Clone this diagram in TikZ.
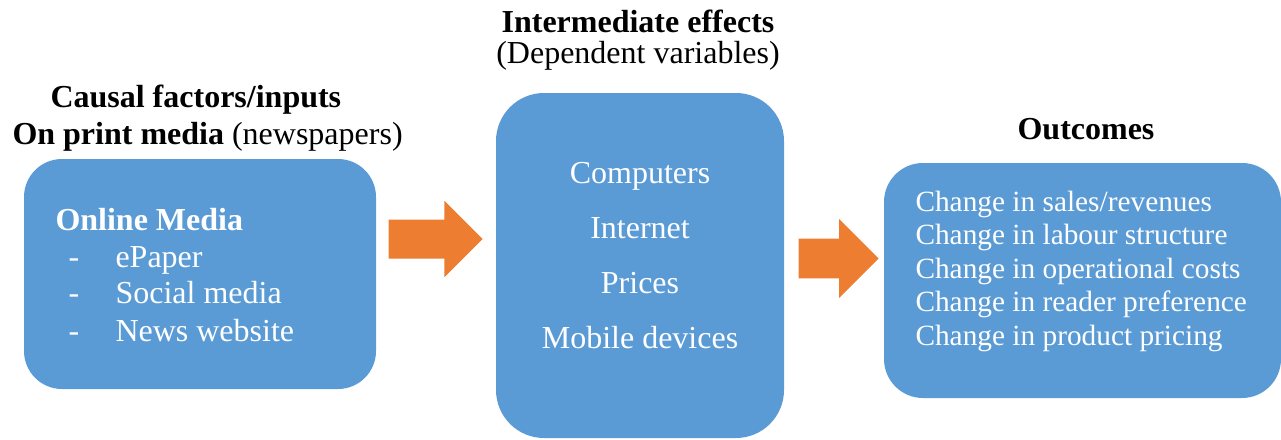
\documentclass[tikz,border=0pt]{standalone}
\usepackage{fontspec}
\setmainfont{Liberation Serif}
\usetikzlibrary{shapes.arrows}

\definecolor{boxblue}{RGB}{91,155,213}
\definecolor{arroworange}{RGB}{237,125,49}

\tikzset{every picture/.style={line width=0.75pt}}
\tikzset{
  roundbox/.style={fill=boxblue, draw=none, inner sep=0pt},
  blockarrow/.style={single arrow, fill=arroworange, draw=none, inner xsep=0pt, single arrow head extend=#1},
  headtext/.style={inner sep=0pt, font=\fontsize{24}{28}\selectfont},
  headbold/.style={inner sep=0pt, font=\fontsize{24}{28}\selectfont\bfseries},
  boxtext/.style={text=white, inner sep=0pt, font=\fontsize{24}{28}\selectfont},
  smalltext/.style={text=white, inner sep=0pt, font=\fontsize{22}{26}\selectfont},
}

\begin{document}
\begin{tikzpicture}[x=0.75pt,y=0.75pt,yscale=-1]
\useasboundingbox (0,0) rectangle (1281,439);

%Shape: Rounded Rect [id:inputs]
\node [roundbox, minimum width=264pt, minimum height=172.5pt, rounded corners=28.5pt] (inputs) at (200,274) {};
%Shape: Rounded Rect [id:effects]
\node [roundbox, minimum width=216pt, minimum height=258.75pt, rounded corners=36pt] (effects) at (640,265.5) {};
%Shape: Rounded Rect [id:outcomes]
\node [roundbox, minimum width=297.75pt, minimum height=176.25pt, rounded corners=29.25pt] (outcomes) at (1082.5,280.5) {};

%Shape: Right Arrow [id:arrowA]
\node [blockarrow=13.9pt, inner ysep=14.25pt, minimum height=70.5pt, anchor=tail] (arrowA) at (388,239) {};
%Shape: Right Arrow [id:arrowB]
\node [blockarrow=14.6pt, inner ysep=14.6pt, minimum height=60pt, anchor=tail] (arrowB) at (798,258.5) {};

% Text Node
\node [headbold, anchor=base west] (inTitle) at (50,107) {Causal factors/inputs};
% Text Node
\node [headtext, anchor=base west] (inSub) at (12,144) {\textbf{On print media} (newspapers)};
% Text Node
\node [headbold, anchor=base] (effTitle) at (638,32) {Intermediate effects};
% Text Node
\node [headtext, anchor=base] (effSub) at (638,63) {(Dependent variables)};
% Text Node
\node [headbold, anchor=base] (outTitle) at (1086,139) {Outcomes};

% Text Node
\node [boxtext, anchor=base west, font=\fontsize{24}{28}\selectfont\bfseries] (online) at (55,230) {Online Media};
% Text Node
\node [boxtext, anchor=base west] (dashA) at (68,267) {-};
% Text Node
\node [boxtext, anchor=base west] (epaper) at (115,267) {ePaper};
% Text Node
\node [boxtext, anchor=base west] (dashB) at (68,303) {-};
% Text Node
\node [boxtext, anchor=base west] (social) at (115,303) {Social media};
% Text Node
\node [boxtext, anchor=base west] (dashC) at (68,341) {-};
% Text Node
\node [boxtext, anchor=base west] (website) at (115,341) {News website};

% Text Node
\node [boxtext, anchor=base] (computers) at (640,183) {Computers};
% Text Node
\node [boxtext, anchor=base] (internet) at (640,238) {Internet};
% Text Node
\node [boxtext, anchor=base] (prices) at (640,293) {Prices};
% Text Node
\node [boxtext, anchor=base] (mobile) at (640,348) {Mobile devices};

% Text Node
\node [smalltext, anchor=base west] (sales) at (915,211) {Change in sales/revenues};
% Text Node
\node [smalltext, anchor=base west] (labour) at (915,244.5) {Change in labour structure};
% Text Node
\node [smalltext, anchor=base west] (costs) at (915,278) {Change in operational costs};
% Text Node
\node [smalltext, anchor=base west] (reader) at (915,311.5) {Change in reader preference};
% Text Node
\node [smalltext, anchor=base west] (pricing) at (915,345) {Change in product pricing};

\end{tikzpicture}
\end{document}
